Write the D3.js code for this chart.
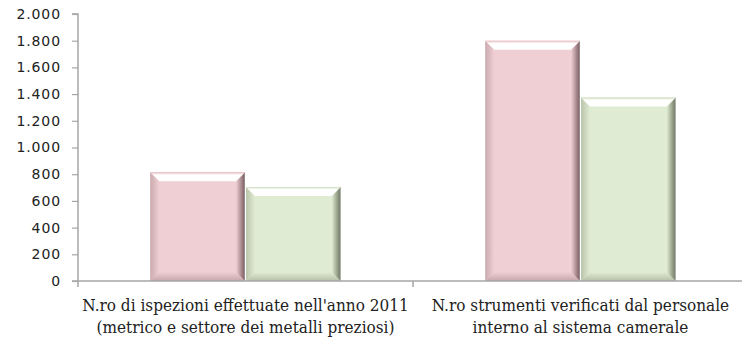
<!DOCTYPE html>
<html>
<head>
<meta charset="utf-8">
<script src="https://cdn.jsdelivr.net/npm/d3@7"></script>
<style>
  html, body { margin: 0; padding: 0; background: #fff; overflow: hidden; }
  svg { display: block; }
</style>
</head>
<body>
<svg id="chart" width="742" height="340"></svg>
<script>
// Chart data
const categories = [
  ["N.ro di ispezioni effettuate nell'anno 2011", "(metrico e settore dei metalli preziosi)"],
  ["N.ro strumenti verificati dal personale", "interno al sistema camerale"]
];
const valuesPink = [815, 1800];
const valuesGreen = [705, 1375];
const yTicks = [0, 200, 400, 600, 800, 1000, 1200, 1400, 1600, 1800, 2000];

const svg = d3.select("#chart");
const W = 742, H = 340;
const margin = { left: 78, top: 14, right: -6, bottom: 59 };
const plotRight = W - margin.right;
const plotBottom = H - margin.bottom;

const fmt = d3.formatLocale({ decimal: ",", thousands: ".", grouping: [3], currency: ["€", ""] }).format(",d");

const x = d3.scaleBand()
  .domain(d3.range(categories.length))
  .range([margin.left, plotRight])
  .paddingInner(0).paddingOuter(0);

const y = d3.scaleLinear().domain([0, 2000]).range([plotBottom, margin.top]);

// Clustered bars: gap width 150% of a bar
const gapRatio = 1.5;
const barW = x.bandwidth() / (2 + gapRatio);
const sub = d3.scaleBand().domain([0, 1])
  .range([barW * gapRatio / 2, barW * gapRatio / 2 + 2 * barW]);

const styles = [
  { main: "#efcfd3", dark: "#8a6c70", left: "#c9aaae", bottom: "#c7a6aa", topEdge: "#e6b9be" },
  { main: "#e0ebd3", dark: "#7c8670", left: "#b9c4ab", bottom: "#b5c0a6", topEdge: "#cfdcbd" }
];

const defs = svg.append("defs");
styles.forEach((s, i) => {
  const gt = defs.append("linearGradient").attr("id", "top" + i)
    .attr("x1", 0).attr("y1", 0).attr("x2", 0).attr("y2", 1);
  gt.append("stop").attr("offset", 0).attr("stop-color", s.topEdge);
  gt.append("stop").attr("offset", 0.3).attr("stop-color", "#ffffff");
  gt.append("stop").attr("offset", 1).attr("stop-color", "#ffffff");
  const gr = defs.append("linearGradient").attr("id", "right" + i)
    .attr("x1", 0).attr("y1", 0).attr("x2", 1).attr("y2", 0);
  gr.append("stop").attr("offset", 0).attr("stop-color", s.main);
  gr.append("stop").attr("offset", 0.85).attr("stop-color", s.dark);
  gr.append("stop").attr("offset", 1).attr("stop-color", "#9a9a9a");
  const gl = defs.append("linearGradient").attr("id", "left" + i)
    .attr("x1", 0).attr("y1", 0).attr("x2", 1).attr("y2", 0);
  gl.append("stop").attr("offset", 0).attr("stop-color", s.left);
  gl.append("stop").attr("offset", 1).attr("stop-color", s.main);
  const gb = defs.append("linearGradient").attr("id", "bottom" + i)
    .attr("x1", 0).attr("y1", 0).attr("x2", 0).attr("y2", 1);
  gb.append("stop").attr("offset", 0).attr("stop-color", s.main);
  gb.append("stop").attr("offset", 1).attr("stop-color", s.bottom);
});

const bars = [];
[valuesPink, valuesGreen].forEach((vals, si) => {
  vals.forEach((v, ci) => bars.push({ s: si, c: ci, v }));
});

const bev = 9;
const gBars = svg.append("g");
bars.forEach(d => {
  const x0 = x(d.c) + sub(d.s) + 0.5;
  const x1 = x(d.c) + sub(d.s) + sub.bandwidth() - 0.5;
  const y0 = y(d.v);
  const y1 = y(0);
  const g = gBars.append("g");
  const st = styles[d.s];
  g.append("rect").attr("x", x0).attr("y", y0).attr("width", x1 - x0).attr("height", y1 - y0)
    .attr("fill", st.main);
  const poly = pts => pts.map(p => p.join(",")).join(" ");
  // left bevel
  g.append("polygon").attr("points", poly([[x0, y0], [x0 + bev, y0 + bev], [x0 + bev, y1 - bev], [x0, y1]]))
    .attr("fill", `url(#left${d.s})`);
  // bottom bevel
  g.append("polygon").attr("points", poly([[x0, y1], [x0 + bev, y1 - bev], [x1 - bev, y1 - bev], [x1, y1]]))
    .attr("fill", `url(#bottom${d.s})`);
  // right bevel
  g.append("polygon").attr("points", poly([[x1, y0], [x1 - bev, y0 + bev], [x1 - bev, y1 - bev], [x1, y1]]))
    .attr("fill", `url(#right${d.s})`);
  // top bevel
  g.append("polygon").attr("points", poly([[x0, y0], [x1, y0], [x1 - bev, y0 + bev], [x0 + bev, y0 + bev]]))
    .attr("fill", `url(#top${d.s})`);
});

// Y axis
const yAxis = d3.axisLeft(y).tickValues(yTicks).tickFormat(fmt).tickSize(6).tickPadding(11);
const gy = svg.append("g").attr("transform", `translate(${margin.left},0)`).call(yAxis);
gy.select(".domain").attr("stroke", "#a6a6a6").attr("stroke-width", 1.5).attr("d", `M-6,${margin.top}H0V${plotBottom + 6}`);
gy.selectAll(".tick line").attr("stroke", "#a6a6a6").attr("stroke-width", 1.2);
gy.selectAll(".tick text")
  .attr("fill", "#222")
  .style("font-family", "'DejaVu Sans', Verdana, sans-serif")
  .style("font-size", "14px")
  .style("letter-spacing", "0.9px");

// X axis with ticks at category boundaries
const gx = svg.append("g").attr("transform", `translate(0,${plotBottom})`);
gx.append("line").attr("x1", margin.left - 6).attr("x2", plotRight).attr("y1", 0).attr("y2", 0)
  .attr("stroke", "#a6a6a6").attr("stroke-width", 1.5);
gx.selectAll(".divider").data(d3.range(1, categories.length)).join("line")
  .attr("class", "divider")
  .attr("x1", d => x(d)).attr("x2", d => x(d)).attr("y1", 0).attr("y2", 6)
  .attr("stroke", "#a6a6a6").attr("stroke-width", 1.5);

// Category labels, two lines each, in a condensed serif
const labels = svg.append("g");
categories.forEach((lines, i) => {
  const t = labels.append("text")
    .attr("x", x(i) + x.bandwidth() / 2)
    .attr("y", plotBottom + 30)
    .attr("text-anchor", "middle")
    .attr("fill", "#222")
    .style("font-family", "'DejaVu Serif Condensed', 'DejaVu Serif', serif")
    .style("font-stretch", "condensed")
    .style("font-size", "17px");
  lines.forEach((ln, k) => {
    t.append("tspan").attr("x", x(i) + x.bandwidth() / 2).attr("dy", k === 0 ? 0 : 22).text(ln);
  });
});
</script>
</body>
</html>
